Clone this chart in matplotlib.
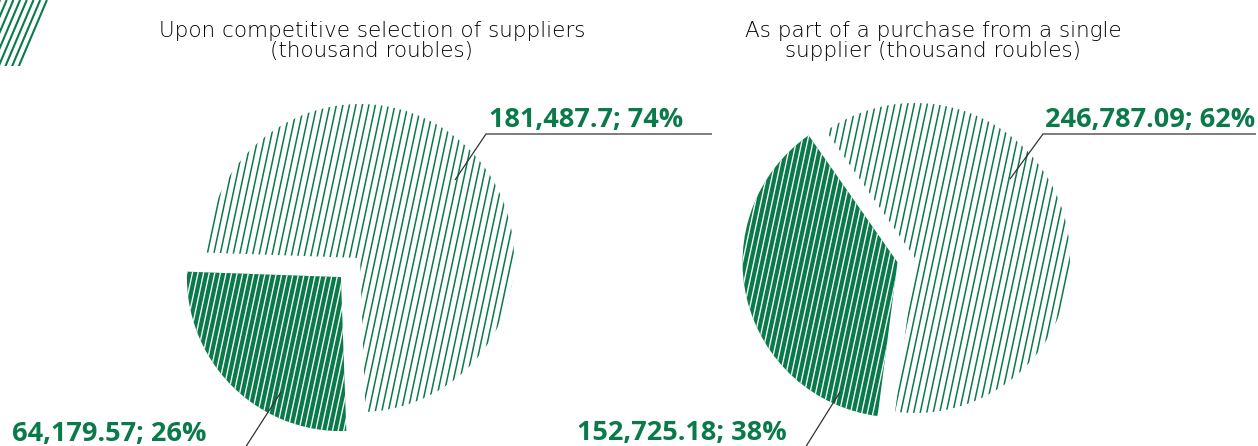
import numpy as np
import matplotlib.pyplot as plt
from matplotlib.collections import LineCollection
from matplotlib.patches import Polygon

W, H = 1258, 446
GREEN = '#0b7a4a'
LEADER = '#333333'

# purchase volumes, thousand roubles: [single-slice share, remaining share]
competitive_values = [64179.57, 181487.7]
competitive_labels = ['64,179.57; 26%', '181,487.7; 74%']
single_values = [152725.18, 246787.09]
single_labels = ['152,725.18; 38%', '246,787.09; 62%']

titles = ['Upon competitive selection of suppliers\n(thousand roubles)',
          'As part of a purchase from a single\nsupplier (thousand roubles)']


def img(x, y):
    # pixel position measured from the top-left corner -> data coords
    return x, H - y


def stripe(ax, patch, box, color, spacing, lw, angle=78):
    x0, x1, y0, y1 = box
    run = (y1 - y0) / np.tan(np.radians(angle))
    starts = np.arange(x0 - run, x1 + spacing, spacing)
    segs = [[(s, y0), (s + run, y1)] for s in starts]
    lc = LineCollection(segs, colors=color, linewidths=lw, zorder=3)
    lc.set_clip_path(patch)
    ax.add_collection(lc)


def draw_pie(ax, values, center, radius, start, explode):
    # explode is given in data units (pixels here)
    wedges, _ = ax.pie(values, center=center, radius=radius, startangle=start,
                       explode=[explode, 0], frame=True, counterclock=True,
                       colors=[GREEN, 'white'], wedgeprops=dict(linewidth=0))
    cx, cy = center
    pad = radius + explode + 10
    box = (cx - pad, cx + pad, cy - pad, cy + pad)
    stripe(ax, wedges[0], box, 'white', 5.6, 0.95)
    stripe(ax, wedges[1], box, GREEN, 6.5, 1.1)
    return wedges


fig = plt.figure(figsize=(W / 100, H / 100), dpi=100)
ax = fig.add_axes([0, 0, 1, 1])

# dark slice centred on the lower-left diagonal
share = competitive_values[0] / sum(competitive_values)
draw_pie(ax, competitive_values, img(360, 258), 154, 225 - share * 180, 27)
draw_pie(ax, single_values, img(915, 258), 155, 125, 18)

# corner ornament
orn = Polygon([img(0, 0), img(49, 0), img(22, 66), img(0, 66)], closed=True,
              facecolor='none', edgecolor='none')
ax.add_patch(orn)
stripe(ax, orn, (0, 60, H - 70, H), GREEN, 6.7, 1.5, angle=67)

ax.set_xlim(0, W)
ax.set_ylim(0, H)
ax.axis('off')

# titles
for x, t in zip([372, 933], titles):
    ax.text(*img(x, 41), t, ha='center', va='center', fontsize=15.5,
            family='DejaVu Sans', fontweight='light', color='#000000',
            linespacing=1.02)

# leader lines and value labels
leaders = [
    [img(281, 392), img(245, 448)],
    [img(455, 180), img(486, 134), img(712, 134)],
    [img(840, 392), img(805, 448)],
    [img(1010, 179), img(1043, 134), img(1256, 134)],
]
for pts in leaders:
    xs, ys = zip(*pts)
    ax.plot(xs, ys, color=LEADER, lw=0.9, zorder=4, solid_capstyle='butt')

label_pos = [(12, 441), (489, 127), (577, 440), (1045, 127)]
for (x, y), t in zip(label_pos,
                     [competitive_labels[0], competitive_labels[1],
                      single_labels[0], single_labels[1]]):
    ax.text(*img(x, y), t, ha='left', va='baseline', fontsize=19.5,
            family='Open Sans', fontweight='bold', color=GREEN)

fig.savefig('out.png', dpi=100)
